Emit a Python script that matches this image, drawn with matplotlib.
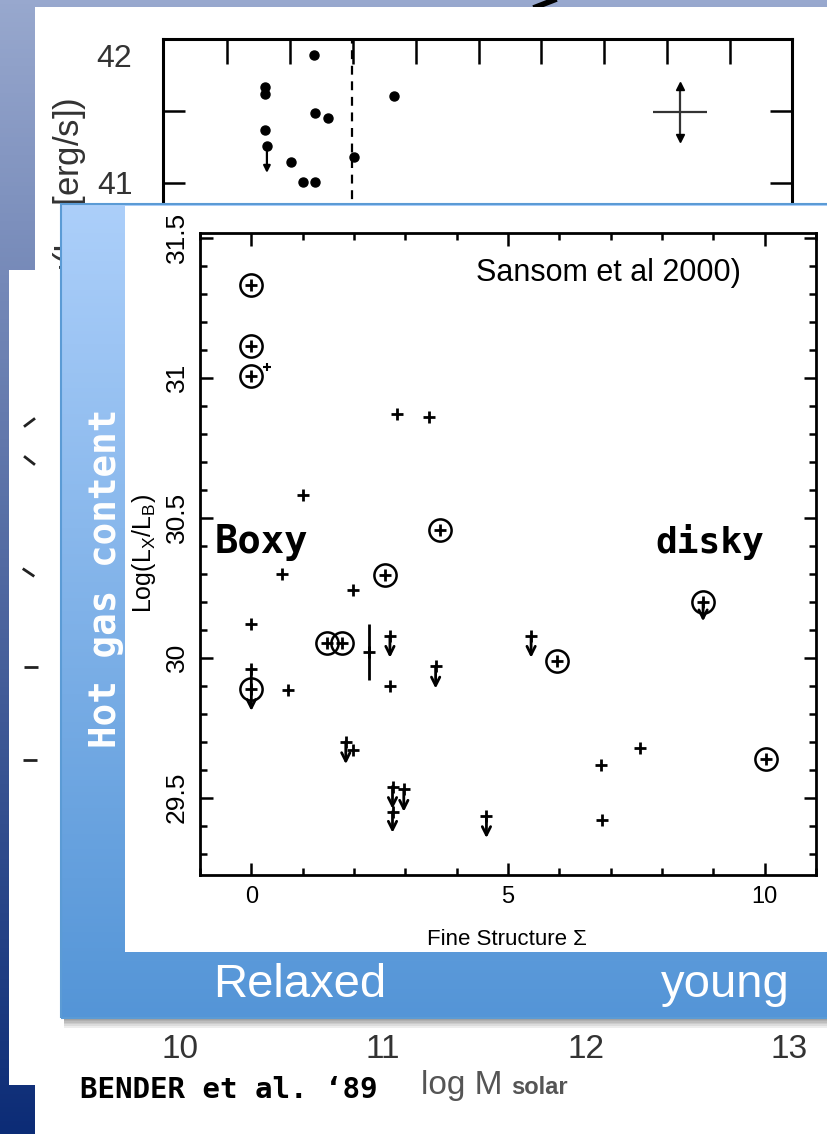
import numpy as np
import matplotlib
matplotlib.use("Agg")
import matplotlib.pyplot as plt
import matplotlib.transforms as mtransforms
from matplotlib.patches import Rectangle
from matplotlib.lines import Line2D
from matplotlib.ticker import FixedLocator, MultipleLocator

W, H = 827, 1134
NARROW = ['Liberation Sans Narrow', 'Liberation Sans', 'DejaVu Sans']
SANS = ['Liberation Sans', 'DejaVu Sans']
MONO = ['DejaVu Sans Mono']
plt.rcParams['font.family'] = NARROW
plt.rcParams['mathtext.default'] = 'regular'

# background figure: Bender et al. '89, log M vs log Lx
bender_logm = [10.659, 10.418, 10.418, 11.054, 10.667, 10.730, 10.420, 10.428, 10.548, 10.859, 10.605, 10.667]
bender_loglx = [41.889, 41.665, 41.620, 41.606, 41.488, 41.450, 41.370, 41.260, 41.144, 41.180, 41.010, 41.010]
bender_lim_m = [10.428]
bender_lim_lx = [41.260]
bender_lim_len = [0.19]
bender_split = 10.849
bender_err_m, bender_err_lx = [12.463], [41.495]
bender_err_dm, bender_err_dlx = [0.133], [0.18]
bender_xticks = [10, 11, 12, 13]
bender_xlabels = ['10', '11', '12', '13']

# inset: Sansom et al 2000, fine structure vs log(Lx/Lb)
plus_sigma = [1.01, 0.59, 1.98, 0.00, 0.71, 2.70, 2.84, 3.47, 6.82, 7.57, 6.83, 1.98]
plus_lx = [30.58, 30.30, 30.243, 30.12, 29.883, 29.90, 30.87, 30.86, 29.618, 29.677, 29.42, 29.67]
small_sigma = [0.30]
small_lx = [31.04]
circ_sigma = [0.0, 0.0, 0.0, 3.67, 2.60, 1.47, 1.77, 5.96, 10.03, 0.0, 8.80]
circ_lx = [31.33, 31.115, 31.005, 30.457, 30.296, 30.052, 30.052, 29.987, 29.64, 29.89, 30.20]
lim_sigma = [2.70, 3.59, 5.45, 1.84, 2.75, 2.97, 2.75, 4.58, 0.0]
lim_lx = [30.076, 29.97, 30.076, 29.70, 29.54, 29.53, 29.45, 29.433, 29.96]
lim_len = [0.076, 0.08, 0.076, 0.08, 0.08, 0.08, 0.075, 0.077, 0.15]
circ_lim_sigma = [8.80]
circ_lim_lx = [30.20]
circ_lim_len = [0.07]
err_sigma = [2.29]
err_lx = [30.02]
err_dlx = [0.10]

# partly hidden third panel on the left
mark_x = [29, 29, 28, 31, 30]
mark_y = [422, 460, 572, 667, 760]
mark_angle = [-53, 52, 56, 90, 90]


def fbox(x0, y0, x1, y1):
    return [x0 / W, 1 - y1 / H, (x1 - x0) / W, (y1 - y0) / H]


def frect(x0, y0, x1, y1, z, **kw):
    r = Rectangle((x0 / W, 1 - y1 / H), (x1 - x0) / W, (y1 - y0) / H,
                  transform=fig.transFigure, zorder=z, **kw)
    fig.add_artist(r)
    return r


fig = plt.figure(figsize=(8.27, 11.34), dpi=100)

# slide background gradient
bg = fig.add_axes([0, 0, 1, 1], zorder=0)
top = np.array([152, 168, 206]) / 255
bot = np.array([12, 44, 118]) / 255
t = np.linspace(0, 1, 256)[:, None, None]
bg.imshow(top + (bot - top) * t, aspect='auto', extent=[0, 1, 0, 1])
bg.add_line(Line2D([536 / W, 554 / W], [1 - 7 / H, 1.0], color='k', lw=4))
bg.set_xlim(0, 1)
bg.set_ylim(0, 1)
bg.axis('off')

# white sheets
frect(35, 7, 830, 1140, 1, fc='white', ec='none')
frect(9, 270, 60, 1085, 1.5, fc='white', ec='none')

ax3 = fig.add_axes(fbox(9, 270, 60, 1085), zorder=1.6)
for mx, my, ma in zip(mark_x, mark_y, mark_angle):
    ax3.plot([mx], [my], marker=(2, 0, ma), ms=10, mew=2, color='#222222', ls='none')
ax3.set_xlim(9, 60)
ax3.set_ylim(1085, 270)
ax3.axis('off')

# Bender plot (its lower part sits behind the inset)
ax1 = fig.add_axes(fbox(163, 39, 792, 1008), zorder=2)
ax1.set_facecolor('none')
ax1.plot(bender_logm, bender_loglx, 'o', color='k', ms=6.5)
for m, y, l in zip(bender_lim_m, bender_lim_lx, bender_lim_len):
    ax1.annotate('', xy=(m, y - l), xytext=(m, y),
                 arrowprops=dict(arrowstyle='-|>', color='k', lw=1.6,
                                 mutation_scale=10, shrinkA=0, shrinkB=0))
ax1.axvline(bender_split, color='k', lw=1.6, ls=(0, (4, 3)))
ax1.errorbar(bender_err_m, bender_err_lx, xerr=bender_err_dm, yerr=bender_err_dlx,
             fmt='none', ecolor='#333333', elinewidth=1.6, capsize=0)
ax1.plot(bender_err_m, np.add(bender_err_lx, bender_err_dlx), '^', color='k', ms=6)
ax1.plot(bender_err_m, np.subtract(bender_err_lx, bender_err_dlx), 'v', color='k', ms=6)
ax1.set_xlim(9.916, 13.015)
ax1.set_ylim(35.27, 42.0)
for s in ['top', 'left', 'right']:
    ax1.spines[s].set_linewidth(2.2)
ax1.spines['bottom'].set_visible(False)
ax1.xaxis.set_major_locator(FixedLocator(bender_xticks))
ax1.xaxis.set_minor_locator(FixedLocator(10.232 + 0.3097 * np.arange(9)))
ax1.set_xticklabels(bender_xlabels)
ax1.yaxis.set_major_locator(FixedLocator([41, 42]))
ax1.yaxis.set_minor_locator(FixedLocator([41.5]))
ax1.set_yticklabels(['41', '42'])
ax1.tick_params(axis='x', which='major', bottom=False, top=False, length=0,
                labelsize=24, pad=19, labelcolor='#333333')
ax1.tick_params(axis='x', which='minor', bottom=False, top=True, direction='in',
                length=18, width=1.8)
ax1.tick_params(axis='y', which='both', left=True, right=True, direction='in',
                length=16, width=1.8, labelsize=23, pad=22, labelcolor='#333333')
lab42 = ax1.get_yticklabels()[1]
lab42.set_transform(lab42.get_transform() +
                    mtransforms.ScaledTranslation(0, -0.16, fig.dpi_scale_trans))
fig.text(70 / W, 1 - 98 / H, r'log(L$_X$ [erg/s])', rotation=90, ha='center', va='top',
         fontsize=25, family=SANS, color='#333333', zorder=1.2)

fig.text(80 / W, 1 - 1090 / H, 'BENDER et al. \u201889', family=MONO, weight='bold',
         fontsize=21, ha='left', va='center', color='k', zorder=3)
fig.text(421 / W, 1 - 1094 / H, 'log M', family=SANS, fontsize=24, ha='left',
         va='baseline', color='#555555', zorder=3)
fig.text(511 / W, 1 - 1094 / H, 'solar', family=SANS, fontsize=17, weight='bold',
         ha='left', va='baseline', color='#555555', zorder=3)

# inset frame with shadow
for i in range(6):
    frect(64, 1016, 830, 1018 + 1.6 * (i + 1), 4, fc='#000000', ec='none', alpha=0.07)
frame = fig.add_axes(fbox(61, 204, 830, 1018), zorder=5)
ftop = np.array([172, 207, 250]) / 255
fbot = np.array([84, 149, 215]) / 255
frame.imshow(ftop + (fbot - ftop) * t, aspect='auto', extent=[0, 1, 0, 1])
frame.set_xlim(0, 1)
frame.set_ylim(0, 1)
frame.axis('off')
frect(61, 204, 830, 1018, 5.2, fc='none', ec='#5b9bd5', lw=1.5)
frect(125, 206, 830, 952, 5.5, fc='white', ec='none')

# Sansom plot
ax2 = fig.add_axes(fbox(200, 233, 816, 875), zorder=6)
ax2.set_facecolor('white')
ax2.plot(plus_sigma, plus_lx, '+', color='k', ms=8.5, mew=2)
ax2.plot(small_sigma, small_lx, '+', color='k', ms=6, mew=1.5)
ax2.plot(circ_sigma, circ_lx, 'o', mfc='none', mec='k', ms=16, mew=1.8)
ax2.plot(circ_sigma, circ_lx, '+', color='k', ms=8.5, mew=2)
ax2.plot(lim_sigma, lim_lx, '+', color='k', ms=8.5, mew=2)
for xs, ys, ls in [(lim_sigma, lim_lx, lim_len), (circ_lim_sigma, circ_lim_lx, circ_lim_len)]:
    for x, y, l in zip(xs, ys, ls):
        ax2.annotate('', xy=(x, y - l), xytext=(x, y),
                     arrowprops=dict(arrowstyle='->', color='k', lw=2,
                                     mutation_scale=15, shrinkA=0, shrinkB=0))
ax2.errorbar(err_sigma, err_lx, yerr=err_dlx, fmt='+', color='k', ms=8.5, mew=2,
             elinewidth=2, capsize=0)
ax2.set_xlim(-1, 11)
ax2.set_ylim(29.224, 31.517)
for s in ax2.spines.values():
    s.set_linewidth(2)
ax2.xaxis.set_major_locator(FixedLocator([0, 5, 10]))
ax2.xaxis.set_minor_locator(MultipleLocator(1))
ax2.yaxis.set_major_locator(FixedLocator([29.5, 30, 30.5, 31, 31.5]))
ax2.yaxis.set_minor_locator(MultipleLocator(0.1))
ax2.set_yticklabels(['29.5', '30', '30.5', '31', '31.5'])
ax2.tick_params(which='both', direction='in', top=True, right=True, width=1.8)
ax2.tick_params(which='major', length=9)
ax2.tick_params(which='minor', length=5)
ax2.tick_params(axis='x', labelsize=17, pad=8)
ax2.tick_params(axis='y', labelsize=19, pad=8, labelrotation=90)
for lbl in ax2.get_yticklabels():
    lbl.set_va('center')
for lbl in ax2.get_xticklabels():
    lbl.set_family(SANS)
ax2.set_ylabel(r'Log(L$_X$/L$_B$)', fontsize=18, labelpad=5)
ax2.text(0.498, -0.101, 'Fine Structure \u03a3', transform=ax2.transAxes,
         ha='center', va='center', fontsize=16, family=SANS)
ax2.text(0.448, 0.9377, 'Sansom et al 2000)', transform=ax2.transAxes, ha='left',
         va='center', fontsize=22, family=SANS)
ax2.text(0.024, 0.5016, 'Boxy', transform=ax2.transAxes, ha='left', va='baseline',
         fontsize=28, family=MONO, weight='bold')
ax2.text(0.7386, 0.5016, 'disky', transform=ax2.transAxes, ha='left', va='baseline',
         fontsize=26, family=MONO, weight='bold')

# labels on the blue frame
fig.text(106 / W, 1 - 578 / H, 'Hot gas content', rotation=90, ha='center', va='center',
         color='white', family=MONO, weight='bold', fontsize=27, zorder=7)
fig.text(213 / W, 1 - 997 / H, 'Relaxed', ha='left', va='baseline', color='white',
         family=SANS, fontsize=34, zorder=7)
fig.text(790 / W, 1 - 997 / H, 'young', ha='right', va='baseline', color='white',
         family=SANS, fontsize=34, zorder=7)

fig.savefig('out.png', dpi=100)
